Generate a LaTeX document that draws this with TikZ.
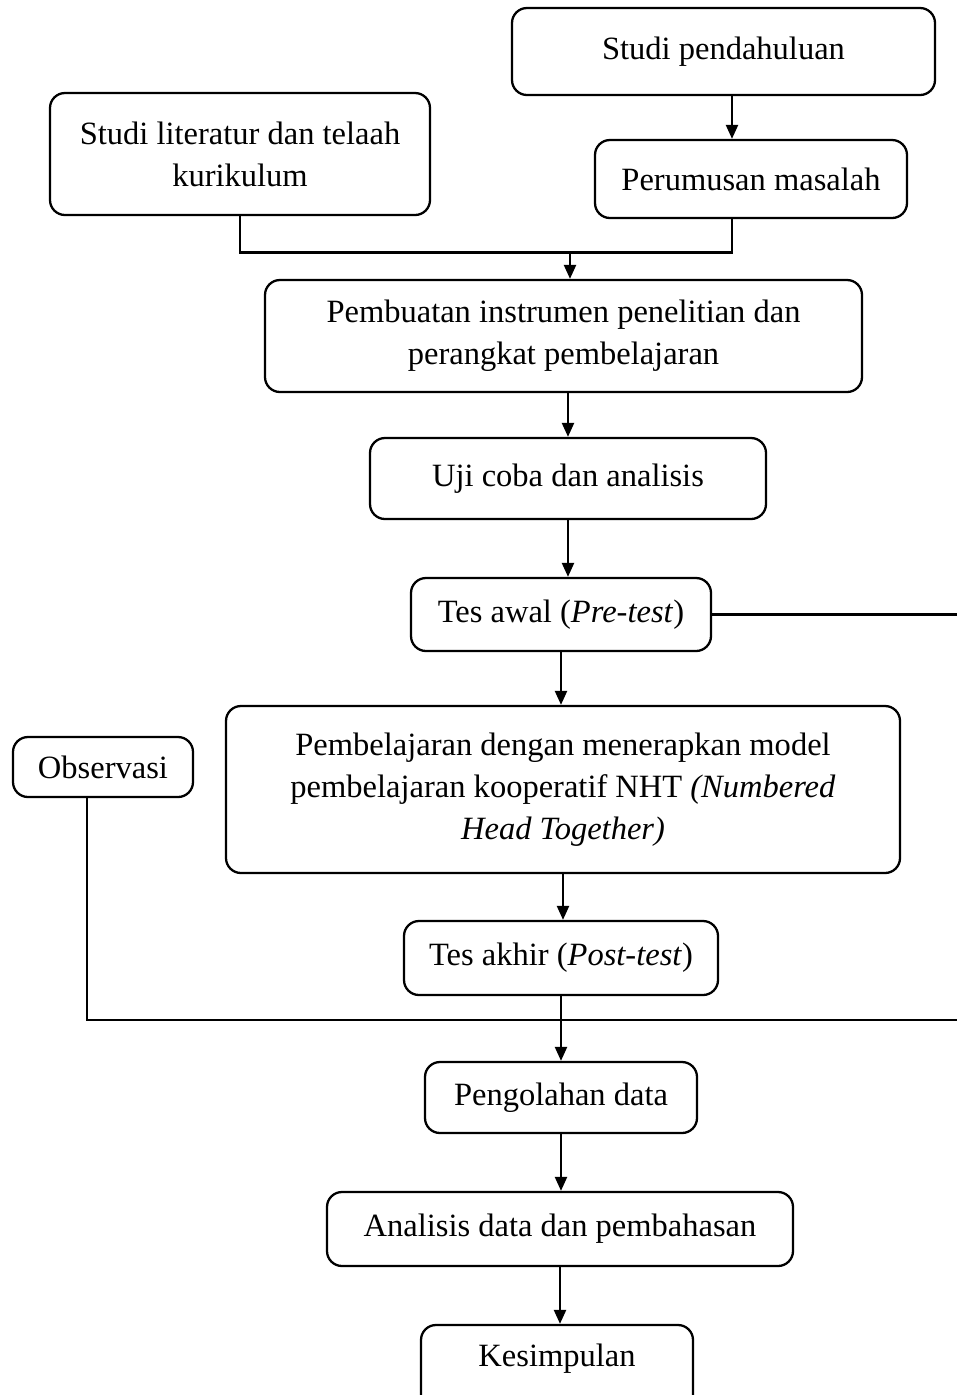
\documentclass[tikz,border=0pt]{standalone}
\usepackage{fontspec}
\setmainfont{Liberation Serif}
\usetikzlibrary{arrows.meta}
\begin{document}
\begin{tikzpicture}[box/.style={draw,line width=1.3pt,rounded corners=0.3cm,align=center,font=\fontsize{18.5}{24}\selectfont},
  line/.style={line width=1.3pt},
  arr/.style={line width=1.3pt,-{Triangle[length=0.28cm,width=0.24cm]}}]
  \useasboundingbox (0,0) rectangle (19.14,-27.9);
  \node (0) [box,minimum width=8.46cm,minimum height=1.74cm] at (14.47,-1.03) {Studi pendahuluan};
  \node (1) [box,minimum width=6.24cm,minimum height=1.56cm] at (15.02,-3.58) {Perumusan masalah};
  \node (2) [box,minimum width=7.6cm,minimum height=2.44cm] at (4.8,-3.08) {Studi literatur dan telaah\\kurikulum};
  \node (3) [box,minimum width=11.94cm,minimum height=2.24cm] at (11.27,-6.72) {Pembuatan instrumen penelitian dan\\perangkat pembelajaran};
  \node (4) [box,minimum width=7.92cm,minimum height=1.62cm] at (11.36,-9.57) {Uji coba dan analisis};
  \node (5) [box,minimum width=6.0cm,minimum height=1.46cm] at (11.22,-12.29) {Tes awal (\textit{Pre-test})};
  \node (6) [box,minimum width=13.48cm,minimum height=3.34cm] at (11.26,-15.79) {Pembelajaran dengan menerapkan model\\pembelajaran kooperatif NHT \textit{(Numbered}\\\textit{Head Together)}};
  \node (7) [box,minimum width=3.6cm,minimum height=1.2cm] at (2.06,-15.34) {Observasi};
  \node (8) [box,minimum width=6.28cm,minimum height=1.48cm] at (11.22,-19.16) {Tes akhir (\textit{Post-test})};
  \node (9) [box,minimum width=5.44cm,minimum height=1.42cm] at (11.22,-21.95) {Pengolahan data};
  \node (10) [box,minimum width=9.32cm,minimum height=1.48cm] at (11.2,-24.58) {Analisis data dan pembahasan};
  \node (11) [box,minimum width=5.44cm,minimum height=1.7cm,text depth=0.5cm] at (11.14,-27.35) {Kesimpulan};
  \coordinate (j) at (11.4,-5.05);
  \coordinate (r1) at (19.4,-12.34);
  \coordinate (r2) at (19.4,-20.4);
  \draw[arr] ([xshift=-0.38cm]1.north |- 0.south) -- ([xshift=-0.38cm]1.north);
  \draw[line] (2.south) |- (j) -| ([xshift=-0.38cm]1.south);
  \draw[arr] (j) -- (j |- 3.north);
  \draw[arr] (4.north |- 3.south) -- (4.north);
  \draw[arr] (4.south) -- (4.south |- 5.north);
  \draw[line] (5.east) -- (5.east -| r1);
  \draw[arr] (5.south) -- (5.south |- 6.north);
  \draw[arr] (6.south) -- (6.south |- 8.north);
  \draw[line] ([xshift=-0.32cm]7.south) |- (r2);
  \draw[arr] (8.south) -- (8.south |- 9.north);
  \draw[arr] (9.south) -- (9.south |- 10.north);
  \draw[arr] (10.south) -- (10.south |- 11.north);
\end{tikzpicture}
\end{document}
